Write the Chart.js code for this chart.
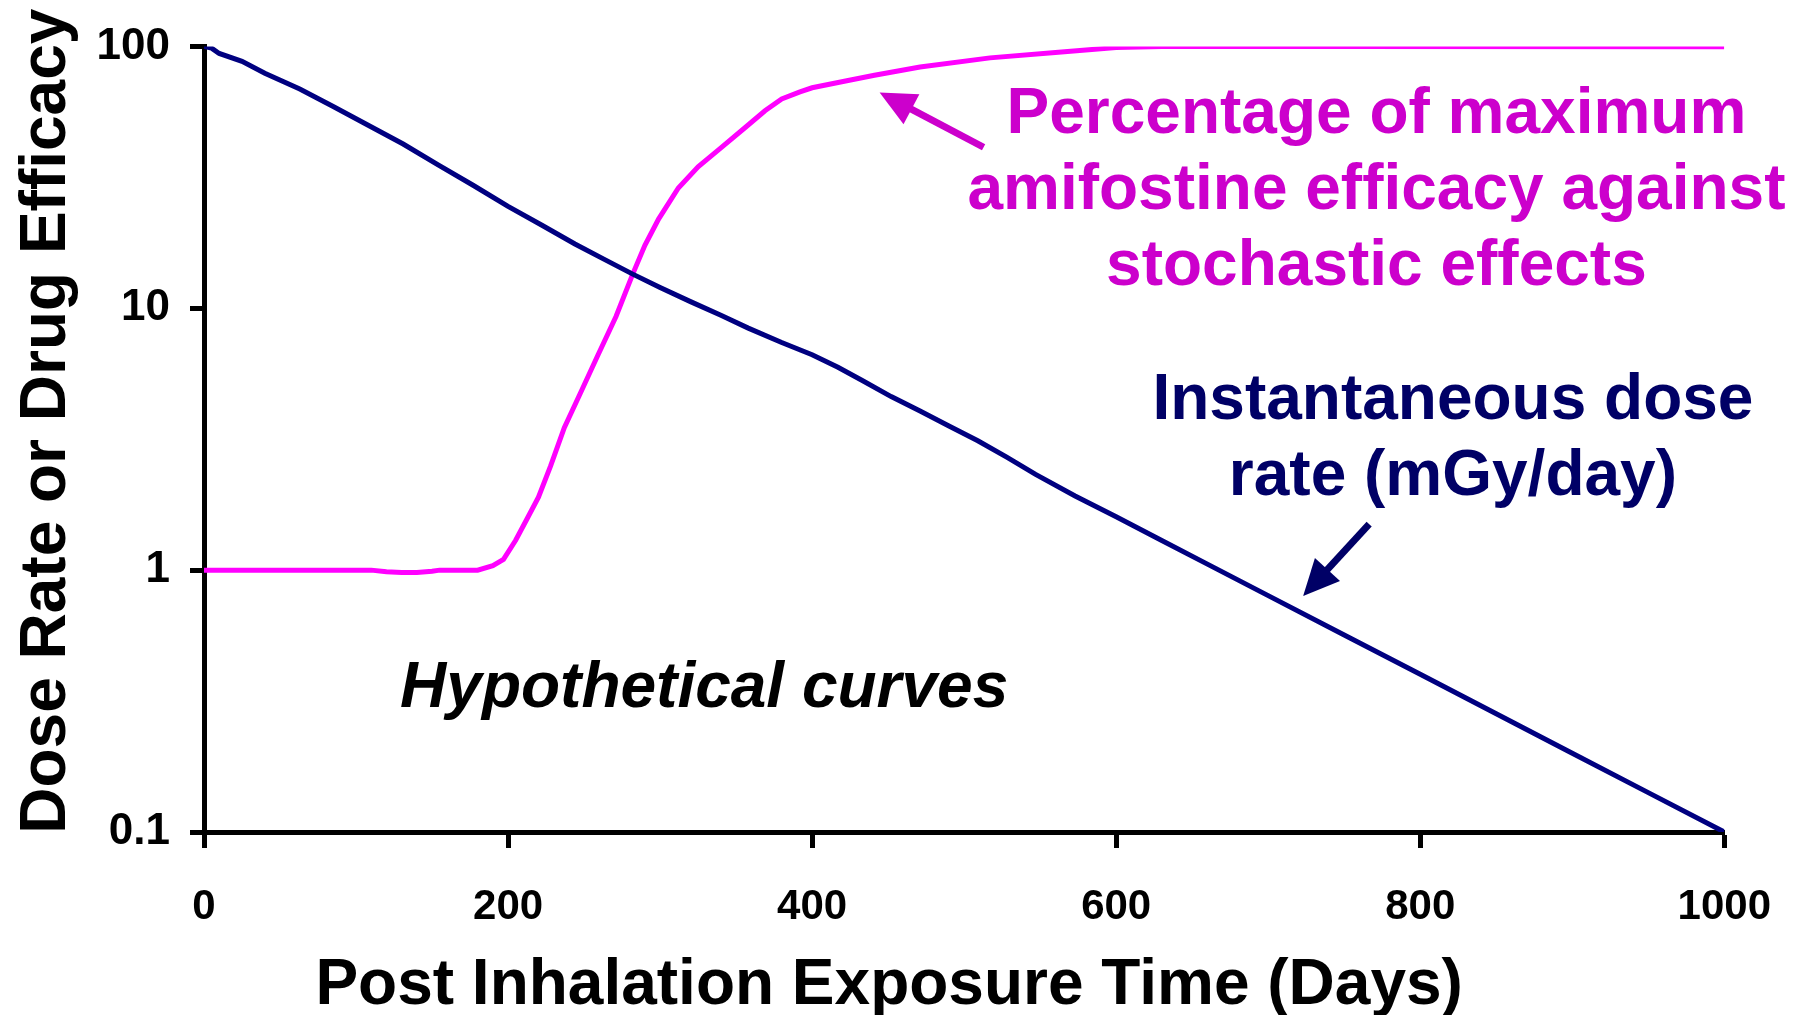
<!DOCTYPE html>
<html>
<head>
<meta charset="utf-8">
<script src="https://cdn.jsdelivr.net/npm/chart.js@4.4.1/dist/chart.umd.min.js"></script>
<style>
  html, body { margin: 0; padding: 0; background: #ffffff; }
  #wrap { width: 1805px; height: 1015px; }
</style>
</head>
<body>
<div id="wrap"><canvas id="c" width="1805" height="1015"></canvas></div>
<script>
// ---- Data ----
const doseDays = [0, 5, 10, 25, 40, 63, 85, 108, 131, 154, 177, 200, 222, 244, 263, 282, 300, 320, 340, 358, 380, 400, 417, 433, 452, 471, 490, 509, 528, 547, 573, 600, 630, 660, 700, 750, 800, 850, 900, 950, 1000];
const doseRate = [100, 98.5, 94, 87.7, 79, 68.7, 59, 50, 42.4, 35.3, 29.5, 24.5, 20.8, 17.6, 15.4, 13.5, 12.0, 10.6, 9.4, 8.4, 7.4, 6.65, 5.95, 5.3, 4.6, 4.05, 3.55, 3.12, 2.7, 2.32, 1.92, 1.598, 1.298, 1.054, 0.799, 0.565, 0.4, 0.283, 0.2, 0.1414, 0.1];

const efficacyDays = [0, 110, 120, 130, 140, 150, 155, 180, 190, 197, 205, 212, 220, 228, 237, 248, 259, 271, 282, 290, 299, 312, 325, 340, 356, 369, 380, 392, 400, 422, 441, 471, 517, 562, 600, 630, 750, 1000];
const efficacy = [1, 1, 0.985, 0.98, 0.98, 0.99, 1, 1, 1.04, 1.1, 1.3, 1.55, 1.9, 2.5, 3.5, 4.8, 6.6, 9.3, 13.5, 17.4, 21.9, 28.8, 34.7, 41, 49, 56.8, 63, 67, 69.5, 73.8, 77.6, 83.4, 90.4, 95, 99, 100, 100, 99.6];

const xTicks = [0, 200, 400, 600, 800, 1000];
const yTicks = [0.1, 1, 10, 100];
const yTickLabels = ['0.1', '1', '10', '100'];

const xTitle = 'Post Inhalation Exposure Time (Days)';
const yTitle = 'Dose Rate or Drug Efficacy';

const efficacyLabel = ['Percentage of maximum', 'amifostine efficacy against', 'stochastic effects'];
const doseLabel = ['Instantaneous dose', 'rate (mGy/day)'];
const noteLabel = ['Hypothetical curves'];

// annotation anchors in data units (day, value)
const notes = [
  { lines: efficacyLabel, day: 771.2, value: 54.5, color: '#CC00CC', italic: false },
  { lines: doseLabel, day: 821.5, value: 4.41, color: '#000066', italic: false },
  { lines: noteLabel, day: 329, value: 0.349, color: '#000000', italic: true }
];
const arrows = [
  { from: [512.8, 41.2], to: [444.4, 66.7], color: '#CC00CC' },
  { from: [766.4, 1.5], to: [723, 0.796], color: '#000066' }
];

const FONT = '"Liberation Sans", Arial, Helvetica, sans-serif';

const annotPlugin = {
  id: 'annot',
  afterDraw(chart) {
    const ctx = chart.ctx;
    const xs = chart.scales.x, ys = chart.scales.y;
    const area = chart.chartArea;
    ctx.save();
    // axis titles
    ctx.fillStyle = '#000';
    ctx.font = 'bold 64px ' + FONT;
    ctx.textAlign = 'center';
    ctx.textBaseline = 'middle';
    ctx.fillText(xTitle, (area.left + area.right) / 2 - 75, 986);
    ctx.save();
    ctx.translate(47, (area.top + area.bottom) / 2 - 18);
    ctx.rotate(-Math.PI / 2);
    ctx.fillText(yTitle, 0, 0);
    ctx.restore();
    // text notes
    notes.forEach(n => {
      const px = xs.getPixelForValue(n.day);
      const py = ys.getPixelForValue(n.value);
      ctx.fillStyle = n.color;
      ctx.font = (n.italic ? 'italic ' : '') + 'bold 64px ' + FONT;
      ctx.textAlign = 'center';
      ctx.textBaseline = 'middle';
      n.lines.forEach((t, i) => ctx.fillText(t, px, py + i * 76));
    });
    // arrows
    arrows.forEach(a => {
      const x1 = xs.getPixelForValue(a.from[0]), y1 = ys.getPixelForValue(a.from[1]);
      const x2 = xs.getPixelForValue(a.to[0]), y2 = ys.getPixelForValue(a.to[1]);
      const ang = Math.atan2(y2 - y1, x2 - x1);
      const headLen = 36, headW = 17;
      const bx = x2 - headLen * Math.cos(ang), by = y2 - headLen * Math.sin(ang);
      ctx.strokeStyle = a.color;
      ctx.fillStyle = a.color;
      ctx.lineWidth = 7;
      ctx.beginPath();
      ctx.moveTo(x1, y1);
      ctx.lineTo(bx + 4 * Math.cos(ang), by + 4 * Math.sin(ang));
      ctx.stroke();
      ctx.beginPath();
      ctx.moveTo(x2, y2);
      ctx.lineTo(bx + headW * Math.sin(ang), by - headW * Math.cos(ang));
      ctx.lineTo(bx - headW * Math.sin(ang), by + headW * Math.cos(ang));
      ctx.closePath();
      ctx.fill();
    });
    ctx.restore();
  }
};

new Chart(document.getElementById('c'), {
  type: 'line',
  data: {
    datasets: [
      {
        label: 'Instantaneous dose rate (mGy/day)',
        data: doseDays.map((d, i) => ({ x: d, y: doseRate[i] })),
        borderColor: '#000080',
        borderWidth: 5,
        pointRadius: 0,
        tension: 0,
        fill: false
      },
      {
        label: 'Percentage of maximum amifostine efficacy',
        data: efficacyDays.map((d, i) => ({ x: d, y: efficacy[i] })),
        borderColor: '#FF00FF',
        borderWidth: 5,
        pointRadius: 0,
        tension: 0,
        fill: false
      }
    ]
  },
  options: {
    responsive: false,
    animation: false,
    events: [],
    layout: { padding: { left: 0, right: 80, top: 46, bottom: 0 } },
    plugins: { legend: { display: false }, tooltip: { enabled: false } },
    scales: {
      x: {
        type: 'linear',
        min: 0, max: 1000,
        afterBuildTicks: s => { s.ticks = xTicks.map(v => ({ value: v })); },
        afterFit: s => { s.height = 183; },
        ticks: {
          color: '#000', padding: 34,
          font: { family: FONT, size: 42, weight: 'bold' },
          maxRotation: 0, autoSkip: false,
          callback: v => String(v)
        },
        grid: { display: true, drawOnChartArea: false, drawTicks: true, tickLength: 16, tickWidth: 5, tickColor: '#000' },
        border: { display: true, color: '#000', width: 5 },
        title: { display: false, text: xTitle }
      },
      y: {
        type: 'logarithmic',
        min: 0.1, max: 100,
        afterBuildTicks: s => { s.ticks = yTicks.map(v => ({ value: v })); },
        afterFit: s => { s.width = 204; },
        ticks: {
          color: '#000', padding: 20,
          font: { family: FONT, size: 44, weight: 'bold' },
          autoSkip: false,
          callback: (v) => { const i = yTicks.indexOf(v); return i >= 0 ? yTickLabels[i] : ''; }
        },
        grid: { display: true, drawOnChartArea: false, drawTicks: true, tickLength: 14, tickWidth: 5, tickColor: '#000' },
        border: { display: true, color: '#000', width: 5 },
        title: { display: false, text: yTitle }
      }
    }
  },
  plugins: [annotPlugin]
});
</script>
</body>
</html>
